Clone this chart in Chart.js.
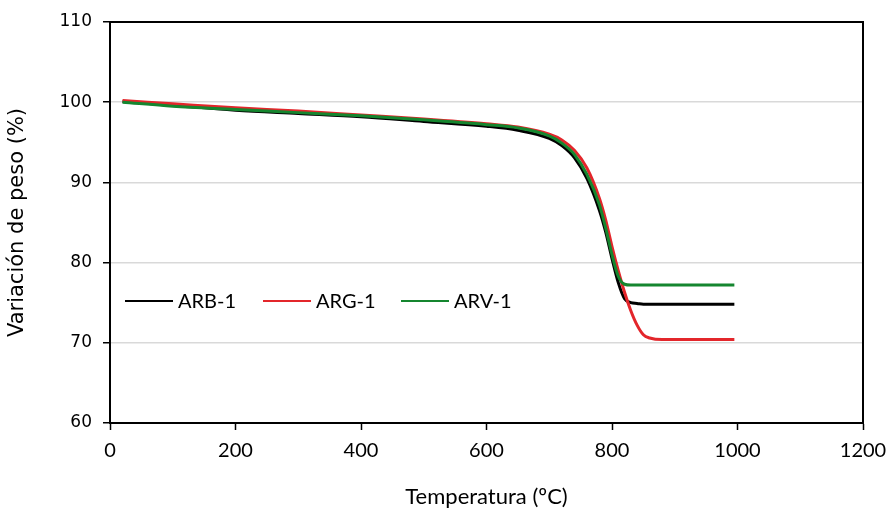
<!DOCTYPE html>
<html>
<head>
<meta charset="utf-8">
<script src="https://cdn.jsdelivr.net/npm/chart.js@4.4.1/dist/chart.umd.min.js"></script>
<style>
  html, body { margin: 0; padding: 0; background: #fff; }
  #wrap { width: 888px; height: 518px; }
</style>
</head>
<body>
<div id="wrap"><canvas id="tga" width="888" height="518"></canvas></div>
<script>
// temperature grid (ºC) shared by the three samples
const temperatura = [20, 100, 200, 300, 400, 500, 600, 650, 700, 720, 740, 760, 780, 790, 800, 810, 820, 830, 840, 850, 860, 880, 995];

// weight change (%) for each sample
const arb1 = [100.1, 99.6, 99.0, 98.6, 98.2, 97.6, 97.0, 96.5, 95.5, 94.6, 93.1, 90.5, 86.5, 83.8, 80.5, 77.5, 75.5, 75.0, 74.9, 74.8, 74.8, 74.8, 74.8];
const arg1 = [100.2, 99.8, 99.3, 98.9, 98.4, 97.9, 97.3, 96.9, 96.0, 95.3, 94.0, 91.8, 88.0, 85.3, 82.0, 79.0, 76.3, 74.0, 72.2, 71.0, 70.6, 70.4, 70.4];
const arv1 = [100.0, 99.5, 99.1, 98.7, 98.3, 97.8, 97.2, 96.8, 95.8, 94.9, 93.5, 91.0, 87.2, 84.3, 81.0, 78.3, 77.3, 77.2, 77.2, 77.2, 77.2, 77.2, 77.2];

const series = [
  { label: 'ARB-1', values: arb1, color: '#000000', order: 2 },
  { label: 'ARG-1', values: arg1, color: '#e3262b', order: 1 },
  { label: 'ARV-1', values: arv1, color: '#15862f', order: 0 }
];

const xTicks = [0, 200, 400, 600, 800, 1000, 1200];
const yTicks = [60, 70, 80, 90, 100, 110];

// black frame on top and right of the plot
const frame = {
  id: 'frame',
  afterDatasetsDraw(chart) {
    const { ctx, chartArea: a } = chart;
    ctx.save();
    ctx.strokeStyle = '#000';
    ctx.lineWidth = 2;
    ctx.beginPath();
    ctx.moveTo(a.left, a.top);
    ctx.lineTo(a.right, a.top);
    ctx.lineTo(a.right, a.bottom);
    ctx.stroke();
    ctx.restore();
  }
};

// legend drawn inside the plot, in one row
const insideLegend = {
  id: 'insideLegend',
  afterDraw(chart) {
    const ctx = chart.ctx;
    ctx.save();
    ctx.font = '20px Lato';
    ctx.textBaseline = 'middle';
    ctx.textAlign = 'left';
    let x = 125;
    const y = 301;
    series.forEach(s => {
      ctx.strokeStyle = s.color;
      ctx.lineWidth = 2;
      ctx.beginPath();
      ctx.moveTo(x, y);
      ctx.lineTo(x + 48, y);
      ctx.stroke();
      ctx.fillStyle = '#000';
      ctx.fillText(s.label, x + 53, y + 1);
      x += 138;
    });
    ctx.restore();
  }
};

new Chart(document.getElementById('tga'), {
  type: 'line',
  data: {
    datasets: series.map(s => ({
      label: s.label,
      data: temperatura.map((t, i) => ({ x: t, y: s.values[i] })),
      borderColor: s.color,
      backgroundColor: s.color,
      borderWidth: 3,
      pointRadius: 0,
      cubicInterpolationMode: 'monotone',
      fill: false,
      order: s.order
    }))
  },
  options: {
    responsive: false,
    animation: false,
    layout: { padding: { left: 0, right: 25, top: 22, bottom: 0 } },
    plugins: { legend: { display: false }, tooltip: { enabled: false } },
    scales: {
      x: {
        type: 'linear',
        min: 0,
        max: 1200,
        afterBuildTicks: s => { s.ticks = xTicks.map(v => ({ value: v })); },
        afterFit: s => { s.height = 95; s.paddingLeft = 0; s.paddingRight = 0; },
        border: { color: '#000', width: 2 },
        grid: { drawOnChartArea: false, tickLength: 7, tickColor: '#000', tickWidth: 1.5 },
        ticks: {
          color: '#000', padding: 9, maxRotation: 0,
          font: { family: 'Lato', size: 20 },
          callback: v => String(v)
        },
        title: {
          display: true,
          text: 'Temperatura (ºC)',
          color: '#000',
          font: { family: 'Lato', size: 22 },
          padding: { top: 0, bottom: 8 }
        }
      },
      y: {
        min: 60,
        max: 110,
        afterBuildTicks: s => { s.ticks = yTicks.map(v => ({ value: v })); },
        afterFit: s => { s.width = 110; },
        border: { color: '#000', width: 2 },
        grid: { color: '#d9d9d9', lineWidth: 1.5, tickLength: 7, tickColor: '#000', tickWidth: 1.5 },
        ticks: { color: '#000', padding: 11, font: { family: 'DejaVu Sans', size: 17 }, callback: v => String(v) },
        title: {
          display: true,
          text: 'Variación de peso (%)',
          color: '#000',
          font: { family: 'DejaVu Sans', size: 21 },
          padding: { top: 5, bottom: 0 }
        }
      }
    }
  },
  plugins: [frame, insideLegend]
});
</script>
</body>
</html>
